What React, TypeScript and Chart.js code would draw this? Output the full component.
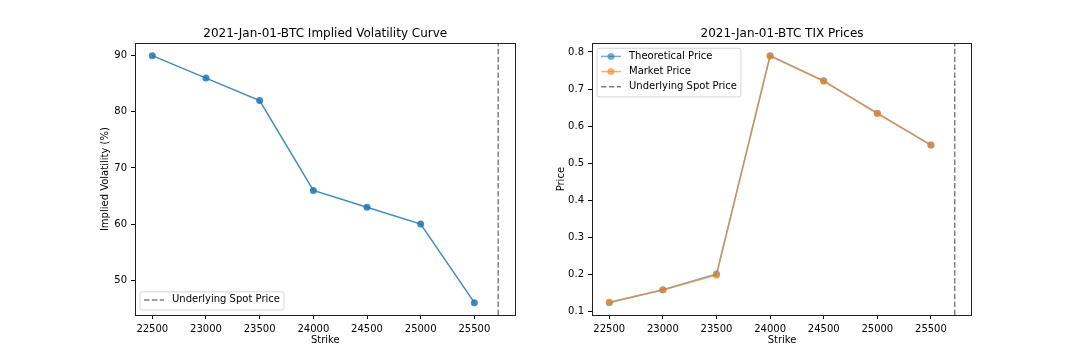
import React, { useEffect, useRef } from "react";
import { Chart, registerables } from "chart.js";

Chart.register(...registerables);
Chart.defaults.font.family = '"DejaVu Sans", sans-serif';

// ---- data ----
const strikes = [22500, 23000, 23500, 24000, 24500, 25000, 25500];
const impliedVol = [90, 86, 82, 66, 63, 60, 46];
const theoreticalPrice = [0.124, 0.159, 0.201, 0.79, 0.722, 0.635, 0.549];
const marketPrice = [0.126, 0.158, 0.198, 0.789, 0.721, 0.634, 0.549];
const spotPrice = 25722;

const xTickValues = [22500, 23000, 23500, 24000, 24500, 25000, 25500];
const ivTickValues = [50, 60, 70, 80, 90];
const priceTickValues = [0.1, 0.2, 0.3, 0.4, 0.5, 0.6, 0.7, 0.8];

const leftTitle = "2021-Jan-01-BTC Implied Volatility Curve";
const rightTitle = "2021-Jan-01-BTC TIX Prices";

// matplotlib-like 5% margins
function margins(vals: number[]) {
  const lo = Math.min(...vals);
  const hi = Math.max(...vals);
  const d = (hi - lo) * 0.05;
  return [lo - d, hi + d];
}

const BLUE_IV = "rgba(31,119,180,0.85)";
const BLUE_T = "rgba(31,119,180,0.6)";
const ORANGE_M = "rgba(255,127,14,0.6)";
const GRAY = "rgb(128,128,128)";
const DASH = [5.5, 2.4];

const decorPlugin = {
  id: "decor",
  afterDraw(chart: any, _args: any, opts: any) {
    const { ctx, chartArea } = chart;
    const { left, right, top, bottom } = chartArea;
    ctx.save();
    // spines
    ctx.strokeStyle = "#222";
    ctx.lineWidth = 1;
    ctx.strokeRect(Math.round(left) + 0.5, Math.round(top) + 0.5, Math.round(right - left) - 1, Math.round(bottom - top));
    // title
    ctx.fillStyle = "#000";
    ctx.font = '12px "DejaVu Sans", sans-serif';
    ctx.textAlign = "center";
    ctx.textBaseline = "alphabetic";
    ctx.fillText(opts.title, (left + right) / 2, top - 6);
    // legend
    const items = opts.items as any[];
    ctx.font = '10px "DejaVu Sans", sans-serif';
    const tw = Math.max(...items.map((it) => ctx.measureText(it.label).width));
    const rowH = 10.2;
    const w = 4 + 20 + 8 + tw + 4;
    const h = 8 + items.length * rowH + (items.length - 1) * 5;
    const x0 = left + 5;
    const y0 = opts.corner === "lowerleft" ? bottom - 5 - h : top + 5;
    ctx.beginPath();
    const r = 2;
    ctx.moveTo(x0 + r, y0);
    ctx.lineTo(x0 + w - r, y0);
    ctx.quadraticCurveTo(x0 + w, y0, x0 + w, y0 + r);
    ctx.lineTo(x0 + w, y0 + h - r);
    ctx.quadraticCurveTo(x0 + w, y0 + h, x0 + w - r, y0 + h);
    ctx.lineTo(x0 + r, y0 + h);
    ctx.quadraticCurveTo(x0, y0 + h, x0, y0 + h - r);
    ctx.lineTo(x0, y0 + r);
    ctx.quadraticCurveTo(x0, y0, x0 + r, y0);
    ctx.closePath();
    ctx.fillStyle = "rgba(255,255,255,0.8)";
    ctx.fill();
    ctx.strokeStyle = "#d6d6d6";
    ctx.lineWidth = 1;
    ctx.stroke();
    items.forEach((it, i) => {
      const cy = y0 + 3 + rowH / 2 + i * (rowH + 5);
      ctx.beginPath();
      ctx.setLineDash(it.dash || []);
      ctx.strokeStyle = it.color;
      ctx.lineWidth = 1.5;
      ctx.moveTo(x0 + 4, cy);
      ctx.lineTo(x0 + 24, cy);
      ctx.stroke();
      ctx.setLineDash([]);
      if (it.marker) {
        ctx.beginPath();
        ctx.fillStyle = it.color;
        ctx.arc(x0 + 14, cy, 3.5, 0, Math.PI * 2);
        ctx.fill();
      }
      ctx.fillStyle = "#000";
      ctx.textAlign = "left";
      ctx.textBaseline = "middle";
      ctx.fillText(it.label, x0 + 32, cy);
    });
    ctx.restore();
  },
};

function axisCommon(ticks: number[], fmt: (v: number) => string) {
  return {
    type: "linear",
    afterBuildTicks: (s: any) => {
      s.ticks = ticks.map((v) => ({ value: v }));
    },
    ticks: {
      autoSkip: false,
      maxRotation: 0,
      color: "#000",
      font: { size: 10 },
      padding: 4,
      callback: (v: any) => fmt(Number(v)),
    },
    grid: {
      display: true,
      drawOnChartArea: false,
      drawTicks: true,
      tickLength: 4,
      tickColor: "#000",
      tickWidth: 1,
    },
    border: { display: false },
  };
}

function makeConfig(kind: "iv" | "price") {
  const [xMin, xMax] = margins([...strikes, spotPrice]);
  if (kind === "iv") {
    const [yMin, yMax] = margins(impliedVol);
    return {
      type: "line",
      data: {
        datasets: [
          {
            label: "Implied Volatility",
            data: strikes.map((s, i) => ({ x: s, y: impliedVol[i] })),
            borderColor: BLUE_IV,
            backgroundColor: BLUE_IV,
            borderWidth: 1.5,
            pointRadius: 3.5,
            pointBorderWidth: 0,
            tension: 0,
            order: 1,
          },
          {
            label: "Underlying Spot Price",
            data: [
              { x: spotPrice, y: yMin },
              { x: spotPrice, y: yMax },
            ],
            borderColor: GRAY,
            borderDash: DASH,
            borderWidth: 1.5,
            pointRadius: 0,
            order: 0,
          },
        ],
      },
      options: {
        responsive: false,
        animation: false,
        layout: { padding: { top: 43.3, right: 24.5, left: 0, bottom: 0 } },
        plugins: {
          legend: { display: false },
          tooltip: { enabled: false },
          title: { display: false },
          decor: {
            title: leftTitle,
            corner: "lowerleft",
            items: [{ label: "Underlying Spot Price", color: GRAY, dash: DASH }],
          },
        },
        scales: {
          x: {
            ...axisCommon(xTickValues, (v) => String(v)),
            min: xMin,
            max: xMax,
            afterFit: (s: any) => {
              s.height = 45;
            },
            title: { display: true, text: "Strike", color: "#000", font: { size: 10 }, padding: { top: 0, bottom: 14 } },
          },
          y: {
            ...axisCommon(ivTickValues, (v) => String(v)),
            min: yMin,
            max: yMax,
            afterFit: (s: any) => {
              s.width = 135;
            },
            title: {
              display: true,
              text: "Implied Volatility (%)",
              color: "#000",
              font: { size: 10 },
              padding: { top: 99, bottom: 0 },
            },
          },
        },
      },
      plugins: [decorPlugin],
    };
  }
  const [yMin, yMax] = margins([...theoreticalPrice, ...marketPrice]);
  return {
    type: "line",
    data: {
      datasets: [
        {
          label: "Theoretical Price",
          data: strikes.map((s, i) => ({ x: s, y: theoreticalPrice[i] })),
          borderColor: BLUE_T,
          backgroundColor: BLUE_T,
          borderWidth: 1.5,
          pointRadius: 3.5,
          pointBorderWidth: 0,
          order: 2,
        },
        {
          label: "Market Price",
          data: strikes.map((s, i) => ({ x: s, y: marketPrice[i] })),
          borderColor: ORANGE_M,
          backgroundColor: ORANGE_M,
          borderWidth: 1.5,
          pointRadius: 3.5,
          pointBorderWidth: 0,
          order: 1,
        },
        {
          label: "Underlying Spot Price",
          data: [
            { x: spotPrice, y: yMin },
            { x: spotPrice, y: yMax },
          ],
          borderColor: GRAY,
          borderDash: DASH,
          borderWidth: 1.5,
          pointRadius: 0,
          order: 0,
        },
      ],
    },
    options: {
      responsive: false,
      animation: false,
      layout: { padding: { top: 43.3, right: 108, left: 0, bottom: 0 } },
      plugins: {
        legend: { display: false },
        tooltip: { enabled: false },
        title: { display: false },
        decor: {
          title: rightTitle,
          corner: "upperleft",
          items: [
            { label: "Theoretical Price", color: BLUE_T, marker: true },
            { label: "Market Price", color: ORANGE_M, marker: true },
            { label: "Underlying Spot Price", color: GRAY, dash: DASH },
          ],
        },
      },
      scales: {
        x: {
          ...axisCommon(xTickValues, (v) => String(v)),
          min: xMin,
          max: xMax,
          afterFit: (s: any) => {
            s.height = 45;
          },
          title: { display: true, text: "Strike", color: "#000", font: { size: 10 }, padding: { top: 0, bottom: 14 } },
        },
        y: {
          ...axisCommon(priceTickValues, (v) => v.toFixed(1)),
          min: yMin,
          max: yMax,
          afterFit: (s: any) => {
            s.width = 52;
          },
          title: { display: true, text: "Price", color: "#000", font: { size: 10 }, padding: { top: 15, bottom: 0 } },
        },
      },
    },
    plugins: [decorPlugin],
  };
}

function ChartCanvas({ kind, left }: { kind: "iv" | "price"; left: number }) {
  const ref = useRef<HTMLCanvasElement | null>(null);
  useEffect(() => {
    if (!ref.current) return;
    const chart = new Chart(ref.current, makeConfig(kind) as any);
    return () => chart.destroy();
  }, [kind]);
  return (
    <canvas
      ref={ref}
      width={540}
      height={360}
      style={{ position: "absolute", left, top: 0, width: 540, height: 360, display: "block" }}
    />
  );
}

export default function App() {
  return (
    <div style={{ position: "absolute", left: 0, top: 0, width: 1080, height: 360, background: "#fff" }}>
      <ChartCanvas kind="iv" left={0} />
      <ChartCanvas kind="price" left={540} />
    </div>
  );
}
